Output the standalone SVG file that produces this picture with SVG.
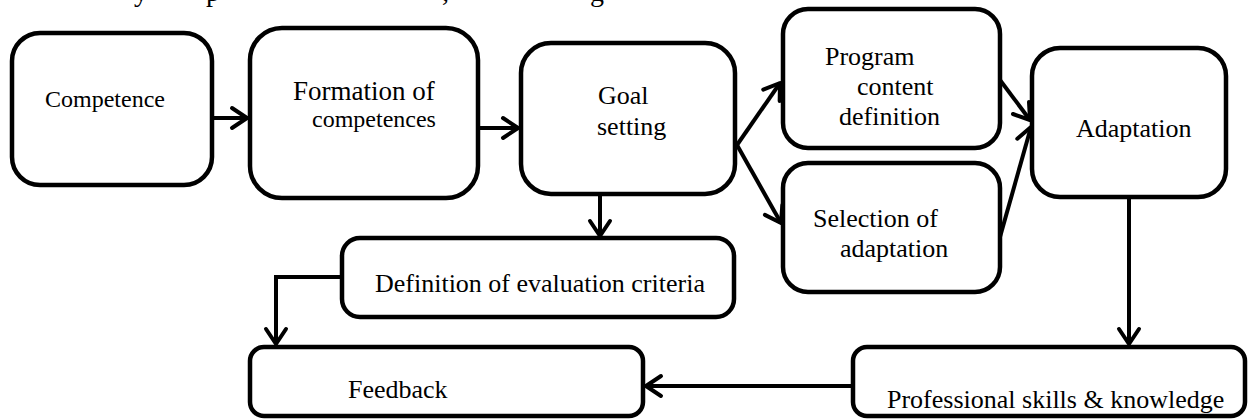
<svg xmlns="http://www.w3.org/2000/svg" width="1248" height="420" viewBox="0 0 1248 420">
  <style>
    .box { fill: #ffffff; stroke: #000000; stroke-width: 4.5; }
    .lbl { font-family: "Liberation Serif", "Times New Roman", serif; font-size: 26px; fill: #000000; }
    .wire { fill: none; stroke: #000000; stroke-width: 4; stroke-linejoin: miter; }
  </style>
  <defs>
    <marker id="arrow" markerUnits="userSpaceOnUse" markerWidth="26" markerHeight="26" viewBox="-20 -13 26 26" refX="0" refY="0" orient="auto">
      <path d="M-15,-10 L0,0 L-15,10" fill="none" stroke="#000000" stroke-width="4" stroke-linecap="round" stroke-linejoin="round"/>
    </marker>
  </defs>

  <rect width="1248" height="420" fill="#ffffff"/>

  <!-- clipped line of running text above the chart -->
  <g id="caption-fragment" class="lbl" style="font-size:28px">
    <text x="134" y="1">y</text>
    <text x="206" y="1">p</text>
    <text x="442" y="1">,</text>
    <text x="590" y="1">g</text>
  </g>

  <g id="connectors">
    <path class="wire" d="M212,118 L247,118" marker-end="url(#arrow)"/>
    <path class="wire" d="M478,128 L518,128" marker-end="url(#arrow)"/>
    <path class="wire" d="M737,145 L780,83" marker-end="url(#arrow)"/>
    <path class="wire" d="M737,145 L781,223" marker-end="url(#arrow)"/>
    <path class="wire" d="M1000,80 L1030,120" marker-end="url(#arrow)"/>
    <path class="wire" d="M1000,237 L1031,127" marker-end="url(#arrow)"/>
    <path class="wire" d="M600,195 L600,236" marker-end="url(#arrow)"/>
    <path class="wire" d="M342,277 L276,277 L276,344" marker-end="url(#arrow)"/>
    <path class="wire" d="M1129,197 L1129,344" marker-end="url(#arrow)"/>
    <path class="wire" d="M853,386 L646,386" marker-end="url(#arrow)"/>
  </g>

  <g id="competence">
    <rect class="box" x="12" y="33" width="200" height="152" rx="28"/>
    <text class="lbl" x="45" y="107" style="font-size:24px">Competence</text>
  </g>

  <g id="formation">
    <rect class="box" x="250" y="28" width="228" height="170" rx="32"/>
    <text class="lbl" x="293" y="100" style="font-size:27px">Formation of</text>
    <text class="lbl" x="312" y="127" style="font-size:24px">competences</text>
  </g>

  <g id="goal-setting">
    <rect class="box" x="521" y="43" width="214" height="151" rx="30"/>
    <text class="lbl" x="598" y="104">Goal</text>
    <text class="lbl" x="597" y="135">setting</text>
  </g>

  <g id="program-content">
    <rect class="box" x="783" y="9" width="217" height="139" rx="25"/>
    <text class="lbl" x="825" y="65">Program</text>
    <text class="lbl" x="857" y="95">content</text>
    <text class="lbl" x="839" y="125">definition</text>
  </g>

  <g id="selection">
    <rect class="box" x="783" y="163" width="217" height="129" rx="25"/>
    <text class="lbl" x="813" y="227">Selection of</text>
    <text class="lbl" x="840" y="257">adaptation</text>
  </g>

  <g id="adaptation">
    <rect class="box" x="1032" y="48" width="194" height="149" rx="28"/>
    <text class="lbl" x="1076" y="137">Adaptation</text>
  </g>

  <g id="evaluation-criteria">
    <rect class="box" x="342" y="238" width="392" height="79" rx="18"/>
    <text class="lbl" x="375" y="292">Definition of evaluation criteria</text>
  </g>

  <g id="feedback">
    <rect class="box" x="250" y="347" width="393" height="69" rx="14"/>
    <text class="lbl" x="348" y="398">Feedback</text>
  </g>

  <g id="professional-skills">
    <rect class="box" x="853" y="347" width="392" height="69" rx="14"/>
    <text class="lbl" x="887" y="408">Professional skills &amp; knowledge</text>
  </g>
</svg>
